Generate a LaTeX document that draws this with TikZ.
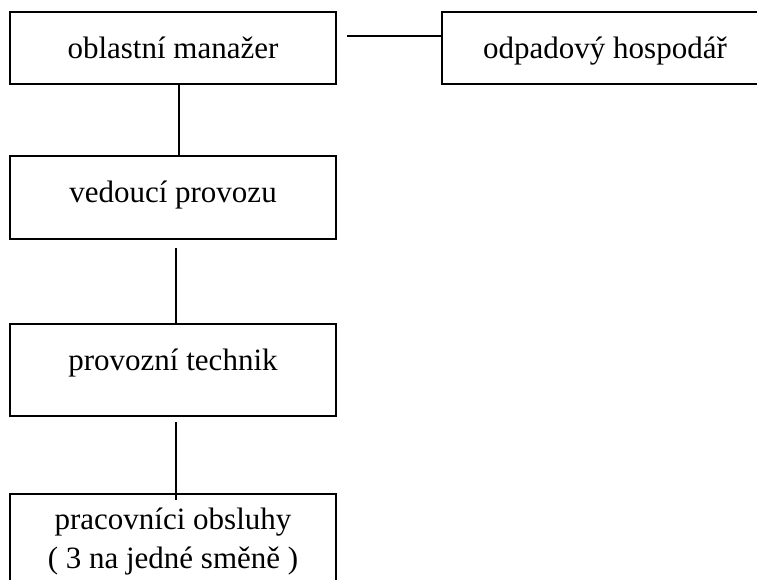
\documentclass[tikz,border=0pt]{standalone}
\usepackage{fontspec}
\setmainfont{Liberation Serif}
\begin{document}
\begin{tikzpicture}[x=1pt,y=-1pt,
    post/.style={draw, line width=2pt, minimum width=326pt, inner sep=0pt,
        text height=46pt, font=\fontsize{31}{39}\selectfont},
    link/.style={line width=2pt}]
                \useasboundingbox (0,0) rectangle (757,579);
                \clip (0,0) rectangle (757,579);
                \node[post, anchor=base, text depth=26pt] (om) at (173,58) {oblastní manažer};
                \node[post, anchor=base, text depth=26pt] (oh) at (605,58) {odpadový hospodář};
                \node[post, anchor=base, text depth=37pt] (vp) at (173,202) {vedoucí provozu};
                \node[post, anchor=base, text depth=46pt] (pt) at (173,370) {provozní technik};
                \node[post, anchor=north, align=center, text height=74pt, text depth=20pt] (po) at (173,493) {pracovníci obsluhy\\( 3 na jedné směně )};
                \draw[link, shorten <=10pt] ([yshift=12pt]om.east) -- ([yshift=12pt]oh.west);
                \draw[link] ([xshift=6pt]om.south) -- ([xshift=6pt]vp.north);
                \draw[link, shorten <=8pt] ([xshift=3pt]vp.south) -- ([xshift=3pt]pt.north);
                \draw[link, shorten <=5pt, shorten >=-7pt] ([xshift=3pt]pt.south) -- ([xshift=3pt]po.north);
            \end{tikzpicture}
\end{document}
